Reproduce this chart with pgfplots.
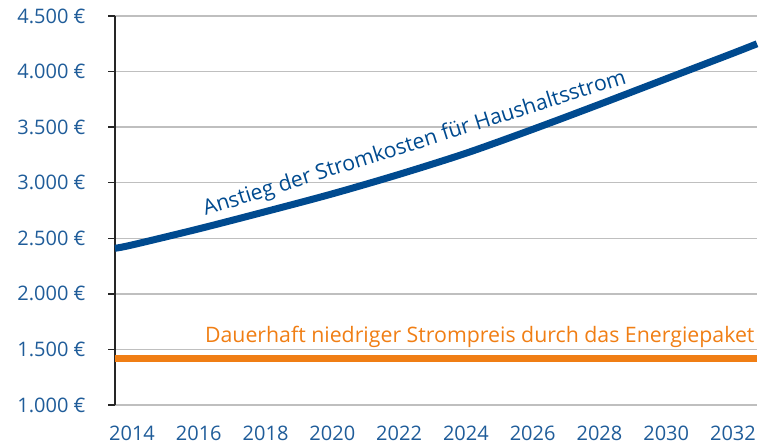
\documentclass[border=0pt]{standalone}
\usepackage{pgfplots}
\pgfplotsset{compat=1.18}
\usepackage{fontspec}
\setmainfont{Open Sans}
\definecolor{lblue}{HTML}{004A8F}
\definecolor{tblue}{HTML}{1F5C99}
\definecolor{lorange}{HTML}{F07E14}
\definecolor{grid}{HTML}{262626}
\begin{document}
\begin{tikzpicture}
\begin{axis}[
  scale only axis, width=642bp, height=389bp,
  xmin=2013.49, xmax=2032.72, ymin=1000, ymax=4500,
  xtick={2014,2016,...,2032},
  ytick={1000,1500,...,4500},
  /pgf/number format/assume math mode=true,
  xticklabel style={font=\fontsize{20bp}{24bp}\selectfont, text=tblue, yshift=-10bp},
  yticklabel style={font=\fontsize{20bp}{24bp}\selectfont, text=tblue, xshift=-19bp},
  yticklabel={\pgfmathprintnumber[1000 sep={.}]{\tick}~€},
  xticklabel={\pgfmathprintnumber[1000 sep={}]{\tick}},
  xmajorgrids=false, ymajorgrids=true,
  major grid style={grid, line width=1.4bp},
  axis x line*=bottom,
  axis y line*=left,
  x axis line style={draw=none},
  xtick style={draw=none},
  y axis line style={-, grid, line width=1.4bp},
  ytick style={grid, line width=1.4bp},
  tick align=outside, major tick length=7bp,
  clip=false,
]
\addplot[lorange, line width=7bp] coordinates {(2013.49,1422) (2032.72,1422)};
\addplot[lblue, line width=7bp, smooth] coordinates {
(2013.49,2410) (2014,2440) (2016,2585) (2018,2740) (2020,2900) (2022,3075)
(2024,3265) (2026,3480) (2028,3705) (2030,3935) (2032,4165) (2032.72,4250)};
\node[anchor=base east, text=lorange, font=\fontsize{21.3bp}{24bp}\selectfont, inner sep=0pt] at (axis cs:2032.65,1560) {Dauerhaft niedriger Strompreis durch das Energiepaket};
\node[anchor=base west, text=lblue, font=\fontsize{21.3bp}{24bp}\selectfont, inner sep=0pt, rotate=17.5] at (axis cs:2016.2,2700) {Anstieg der Stromkosten für Haushaltsstrom};
\end{axis}
\useasboundingbox (-115bp,-40bp) rectangle (654bp,405bp);
\end{tikzpicture}
\end{document}
